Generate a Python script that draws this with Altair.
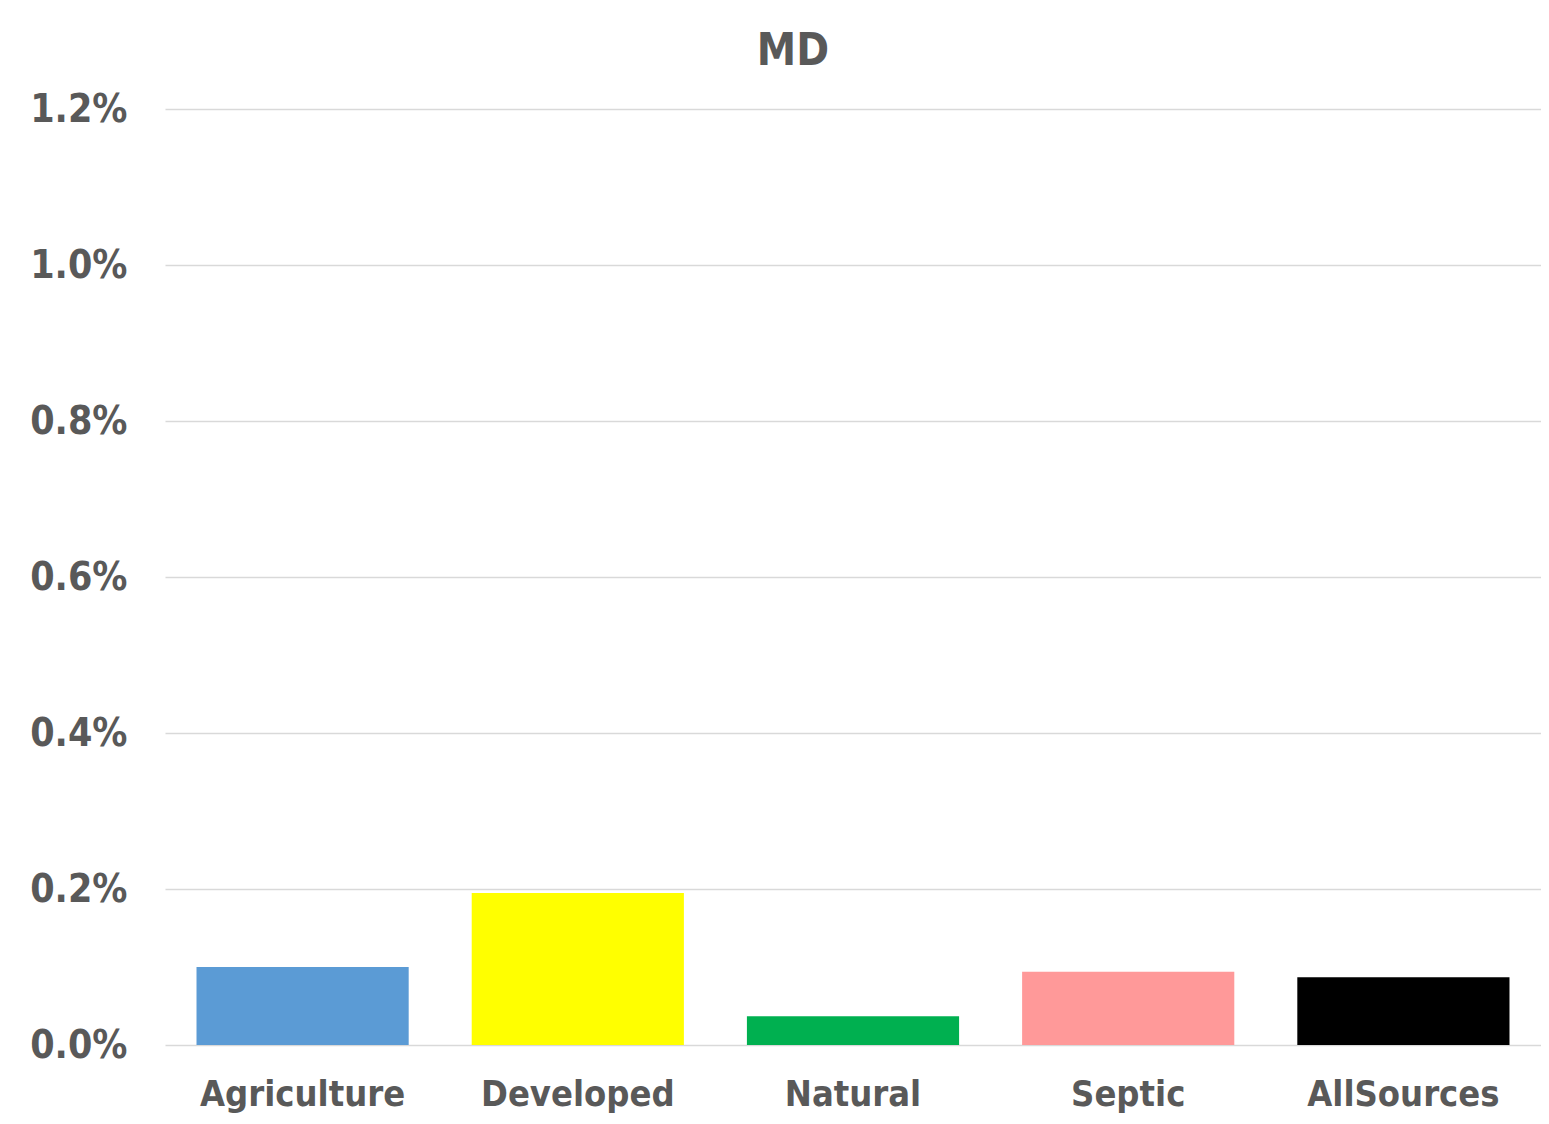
import altair as alt
import pandas as pd

categories = ["Agriculture", "Developed", "Natural", "Septic", "AllSources"]
values = [0.00100, 0.00195, 0.00037, 0.00094, 0.00087]
colors = ["#5B9BD5", "#FFFF00", "#00B050", "#FF9999", "#000000"]

df = pd.DataFrame({"source": categories, "value": values})

FONT = "DejaVu Sans Condensed, DejaVu Sans"
GREY = "#595959"

chart = (
    alt.Chart(df)
    .mark_bar()
    .encode(
        x=alt.X(
            "source:N",
            sort=categories,
            scale=alt.Scale(paddingInner=0.229, paddingOuter=0.1145),
            axis=alt.Axis(
                title=None,
                labelAngle=0,
                labelFont=FONT,
                labelFontSize=36,
                labelFontWeight="bold",
                labelColor=GREY,
                labelPadding=32,
                labelLimit=0,
                ticks=False,
                domain=False,
                grid=False,
            ),
        ),
        y=alt.Y(
            "value:Q",
            scale=alt.Scale(domain=[0, 0.012], nice=False),
            axis=alt.Axis(
                title=None,
                format=".1%",
                values=[0, 0.002, 0.004, 0.006, 0.008, 0.010, 0.012],
                labelFont=FONT,
                labelFontSize=39,
                labelFontWeight="bold",
                labelColor=GREY,
                labelPadding=38,
                ticks=False,
                domain=False,
                grid=True,
                gridColor="#D9D9D9",
                gridWidth=1.5,
            ),
        ),
        color=alt.Color(
            "source:N",
            sort=categories,
            scale=alt.Scale(domain=categories, range=colors),
            legend=None,
        ),
    )
    .properties(
        width=1376,
        height=936,
        title=alt.TitleParams(
            "MD",
            font=FONT,
            fontSize=44,
            fontWeight="bold",
            color=GREY,
            anchor="middle",
            dx=-60,
            offset=16,
        ),
        autosize=alt.AutoSizeParams(type="none"),
        padding={"left": 157, "top": 101, "right": 0, "bottom": 70},
        background="white",
    )
    .configure_view(stroke=None)
)

chart.save("out.html", embed_options={"renderer": "svg", "actions": False})
